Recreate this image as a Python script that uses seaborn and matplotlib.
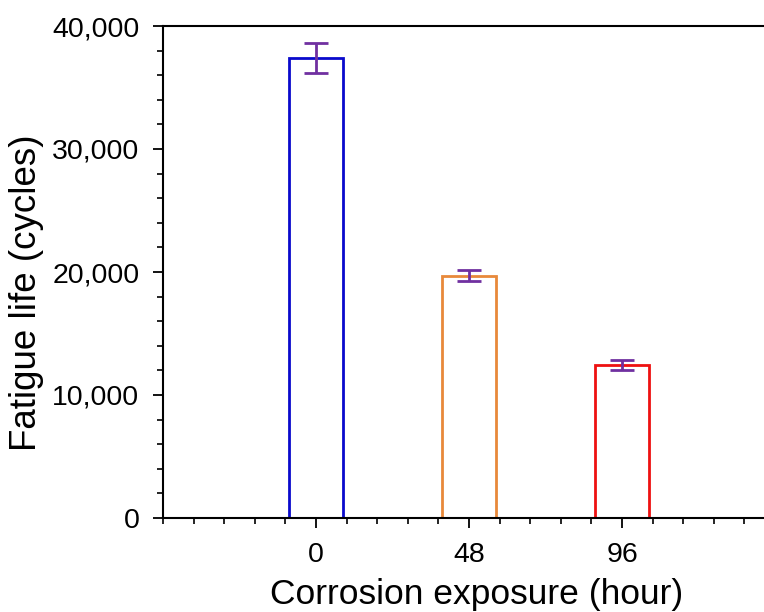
import matplotlib
matplotlib.use("Agg")
import matplotlib.pyplot as plt
import seaborn as sns
import numpy as np
import pandas as pd
from matplotlib.ticker import MultipleLocator, FuncFormatter

hours = ["0", "48", "96"]
fatigue_life = [37400, 19700, 12450]
errors = [1200, 450, 430]
bar_colors = ["#0A0ACC", "#E8893A", "#EE1111"]
err_color = "#7030A0"

sns.set_style("ticks")
plt.rcParams["font.family"] = ["Liberation Sans", "DejaVu Sans"]

df = pd.DataFrame({"hour": hours, "life": fatigue_life})

fig = plt.figure(figsize=(7.64, 6.12), dpi=100)
ax = fig.add_axes([163/764, (612-518)/612, (775-163)/764, (518-26)/612])

sns.barplot(data=df, x="hour", y="life", hue="hour", palette=bar_colors,
            fill=False, width=0.35, linewidth=2.0, legend=False, ax=ax,
            errorbar=None)

xpos = np.arange(len(hours))
ax.errorbar(xpos, fatigue_life, yerr=errors, fmt="none", ecolor=err_color,
            elinewidth=2.0, capsize=8.5, capthick=2.0, zorder=5)

ax.set_xlim(-1, 3)
ax.set_ylim(0, 40000)
ax.yaxis.set_major_locator(MultipleLocator(10000))
ax.yaxis.set_minor_locator(MultipleLocator(2000))
ax.xaxis.set_minor_locator(MultipleLocator(0.2))
ax.yaxis.set_major_formatter(FuncFormatter(lambda v, p: f"{int(v):,}"))

ax.tick_params(axis="both", which="major", direction="out", length=7,
               width=1.3, labelsize=20.5, colors="black", labelcolor="black", pad=10)
ax.tick_params(axis="both", which="minor", direction="out", length=4, width=1.2,
               colors="black")
ax.tick_params(axis="x", which="both", top=False)
ax.tick_params(axis="y", which="both", right=False)

for s in ["left", "bottom", "top", "right"]:
    ax.spines[s].set_linewidth(1.5)
    ax.spines[s].set_color("black")

ax.set_xlabel("Corrosion exposure (hour)", fontsize=25.5, color="black")
ax.set_ylabel("Fatigue life (cycles)", fontsize=26.5, color="black")
ax.xaxis.set_label_coords(0.513, (518-578)/492)
ax.yaxis.set_label_coords((44-163)/612, (518-293)/492)

fig.savefig("out.png", dpi=100)
